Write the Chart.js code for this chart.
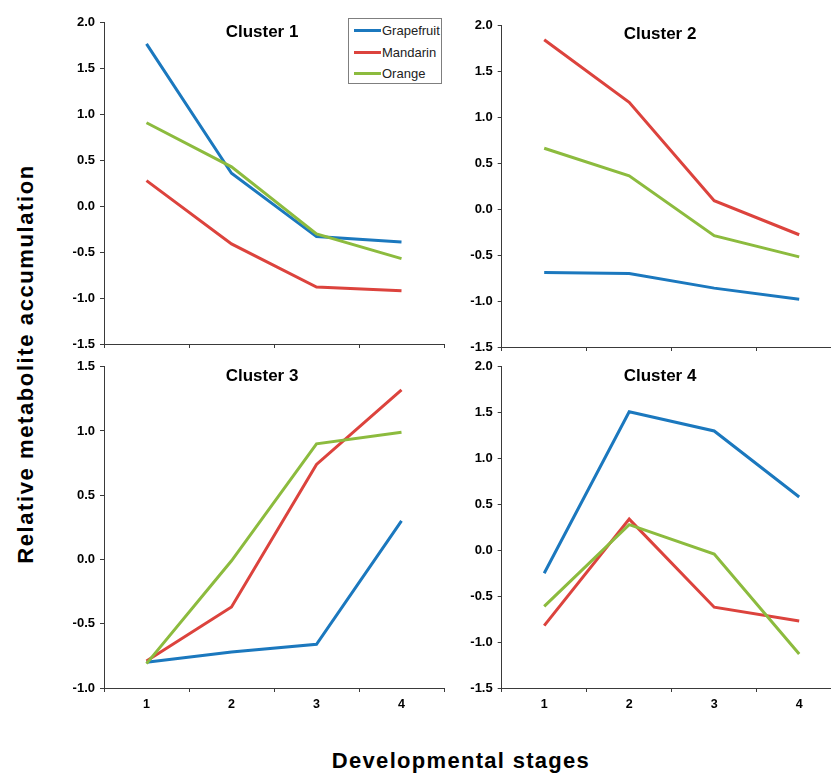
<!DOCTYPE html>
<html>
<head>
<meta charset="utf-8">
<script src="https://cdn.jsdelivr.net/npm/chart.js@4"></script>
<style>
  html, body { margin: 0; padding: 0; background: #fff; overflow: hidden; width: 831px; height: 776px; }
  body { position: relative; font-family: "Liberation Sans", Arial, sans-serif; }
  .panel { position: absolute; }
  .panel canvas { display: block; }
  .ctitle { position: absolute; font-weight: bold; font-size: 17px; color: #000; transform: translate(-50%, -50%); white-space: nowrap; }
  .axtitle { position: absolute; font-weight: bold; font-size: 22px; color: #000; white-space: nowrap; transform: translate(-50%, -50%); }
  #legend { position: absolute; left: 348px; top: 18px; width: 94px; height: 66px; border: 1px solid #7f7f7f; background: #fff; z-index: 5; box-sizing: border-box; }
  .lg { position: absolute; left: 5px; height: 14px; display: flex; align-items: center; font-size: 13px; color: #222; }
  .lg span.sw { display: inline-block; width: 27px; height: 3px; margin-right: 1px; }
</style>
</head>
<body>

<script>
// ---- data ----
const stages = ['1', '2', '3', '4'];
const seriesNames = ['Grapefruit', 'Mandarin', 'Orange'];
const clusterNames = ['Cluster 1', 'Cluster 2', 'Cluster 3', 'Cluster 4'];

const c1Grapefruit = [1.77, 0.36, -0.33, -0.39];
const c1Mandarin   = [0.28, -0.41, -0.88, -0.92];
const c1Orange     = [0.91, 0.43, -0.30, -0.57];

const c2Grapefruit = [-0.69, -0.70, -0.86, -0.98];
const c2Mandarin   = [1.84, 1.16, 0.09, -0.28];
const c2Orange     = [0.66, 0.36, -0.29, -0.52];

const c3Grapefruit = [-0.80, -0.72, -0.66, 0.30];
const c3Mandarin   = [-0.79, -0.37, 0.74, 1.32];
const c3Orange     = [-0.81, -0.01, 0.90, 0.99];

const c4Grapefruit = [-0.25, 1.51, 1.30, 0.58];
const c4Mandarin   = [-0.82, 0.34, -0.62, -0.77];
const c4Orange     = [-0.61, 0.28, -0.04, -1.13];

const yMin = [-1.5, -1.5, -1.0, -1.5];
const yMax = [2.0, 2.0, 1.5, 2.0];
const yStep = 0.5;
const xTitle = 'Developmental stages';
const yTitle = 'Relative metabolite accumulation';
// ---- end data ----

const colors = ['#1B78BE', '#DC433D', '#8CBB3E'];
const FONT = '"Liberation Sans", Arial, sans-serif';
const AX = '#3a3a3a';

const clusters = [
  [c1Grapefruit, c1Mandarin, c1Orange],
  [c2Grapefruit, c2Mandarin, c2Orange],
  [c3Grapefruit, c3Mandarin, c3Orange],
  [c4Grapefruit, c4Mandarin, c4Orange]
];

// layout of each panel (pixel placement only)
const layouts = [
  { left: 40,  top: 0,   w: 410, h: 364, yW: 64,   padTop: 22.7, padRight: 6,   xH: 20, showX: false, title: [262, 32] },
  { left: 440, top: 0,   w: 410, h: 367, yW: 61.7, padTop: 25,   padRight: 8.3, xH: 20, showX: false, title: [660, 34] },
  { left: 40,  top: 350, w: 410, h: 368, yW: 64,   padTop: 16.7, padRight: 6,   xH: 30, showX: true,  title: [262, 376] },
  { left: 440, top: 350, w: 410, h: 368, yW: 61.7, padTop: 16.7, padRight: 8.3, xH: 30, showX: true,  title: [660, 376] }
];

clusters.forEach((series, i) => {
  const L = layouts[i];
  const div = document.createElement('div');
  div.className = 'panel';
  div.style.left = L.left + 'px';
  div.style.top = L.top + 'px';
  div.style.width = L.w + 'px';
  div.style.height = L.h + 'px';
  const cv = document.createElement('canvas');
  cv.width = L.w; cv.height = L.h;
  div.appendChild(cv);
  document.body.appendChild(div);

  const t = document.createElement('div');
  t.className = 'ctitle';
  t.textContent = clusterNames[i];
  t.style.left = L.title[0] + 'px';
  t.style.top = L.title[1] + 'px';
  document.body.appendChild(t);

  new Chart(cv, {
    type: 'line',
    data: {
      labels: stages,
      datasets: series.map((vals, k) => ({
        label: seriesNames[k],
        data: vals,
        borderColor: colors[k],
        backgroundColor: colors[k],
        borderWidth: 3,
        pointRadius: 0,
        tension: 0,
        fill: false,
        order: 2 - k
      }))
    },
    options: {
      responsive: false,
      animation: false,
      devicePixelRatio: 1,
      layout: { padding: { top: L.padTop, right: L.padRight, left: 0, bottom: 0 } },
      plugins: { legend: { display: false }, tooltip: { enabled: false }, title: { display: false } },
      scales: {
        x: {
          type: 'category',
          offset: true,
          grid: { offset: true, drawOnChartArea: false, drawTicks: true, tickLength: 4, color: AX, lineWidth: 1 },
          border: { display: true, color: AX, width: 1 },
          ticks: {
            display: L.showX,
            color: '#000',
            padding: 5,
            font: { family: FONT, size: 12.5, weight: 'bold' },
            maxRotation: 0
          },
          afterFit: (s) => { s.height = L.xH; }
        },
        y: {
          min: yMin[i],
          max: yMax[i],
          grid: { drawOnChartArea: false, drawTicks: true, tickLength: 4, color: AX, lineWidth: 1 },
          border: { display: true, color: AX, width: 1 },
          ticks: {
            stepSize: yStep,
            color: '#000',
            padding: 5,
            font: { family: FONT, size: 13, weight: 'bold' },
            callback: (v) => Number(v).toFixed(1)
          },
          afterFit: (s) => { s.width = L.yW; }
        }
      }
    }
  });
});

// legend (HTML)
const lg = document.createElement('div');
lg.id = 'legend';
seriesNames.forEach((n, k) => {
  const row = document.createElement('div');
  row.className = 'lg';
  row.style.top = (4.5 + k * 21.7) + 'px';
  const sw = document.createElement('span');
  sw.className = 'sw';
  sw.style.background = colors[k];
  row.appendChild(sw);
  row.appendChild(document.createTextNode(n));
  lg.appendChild(row);
});
document.body.appendChild(lg);

// axis titles
const xt = document.createElement('div');
xt.className = 'axtitle';
xt.textContent = xTitle;
xt.style.left = '461px';
xt.style.top = '761px';
xt.style.letterSpacing = '1.3px';
document.body.appendChild(xt);

const yt = document.createElement('div');
yt.className = 'axtitle';
yt.textContent = yTitle;
yt.style.left = '26px';
yt.style.top = '364px';
yt.style.letterSpacing = '1.6px';
yt.style.transform = 'translate(-50%, -50%) rotate(-90deg)';
document.body.appendChild(yt);
</script>
</body>
</html>
